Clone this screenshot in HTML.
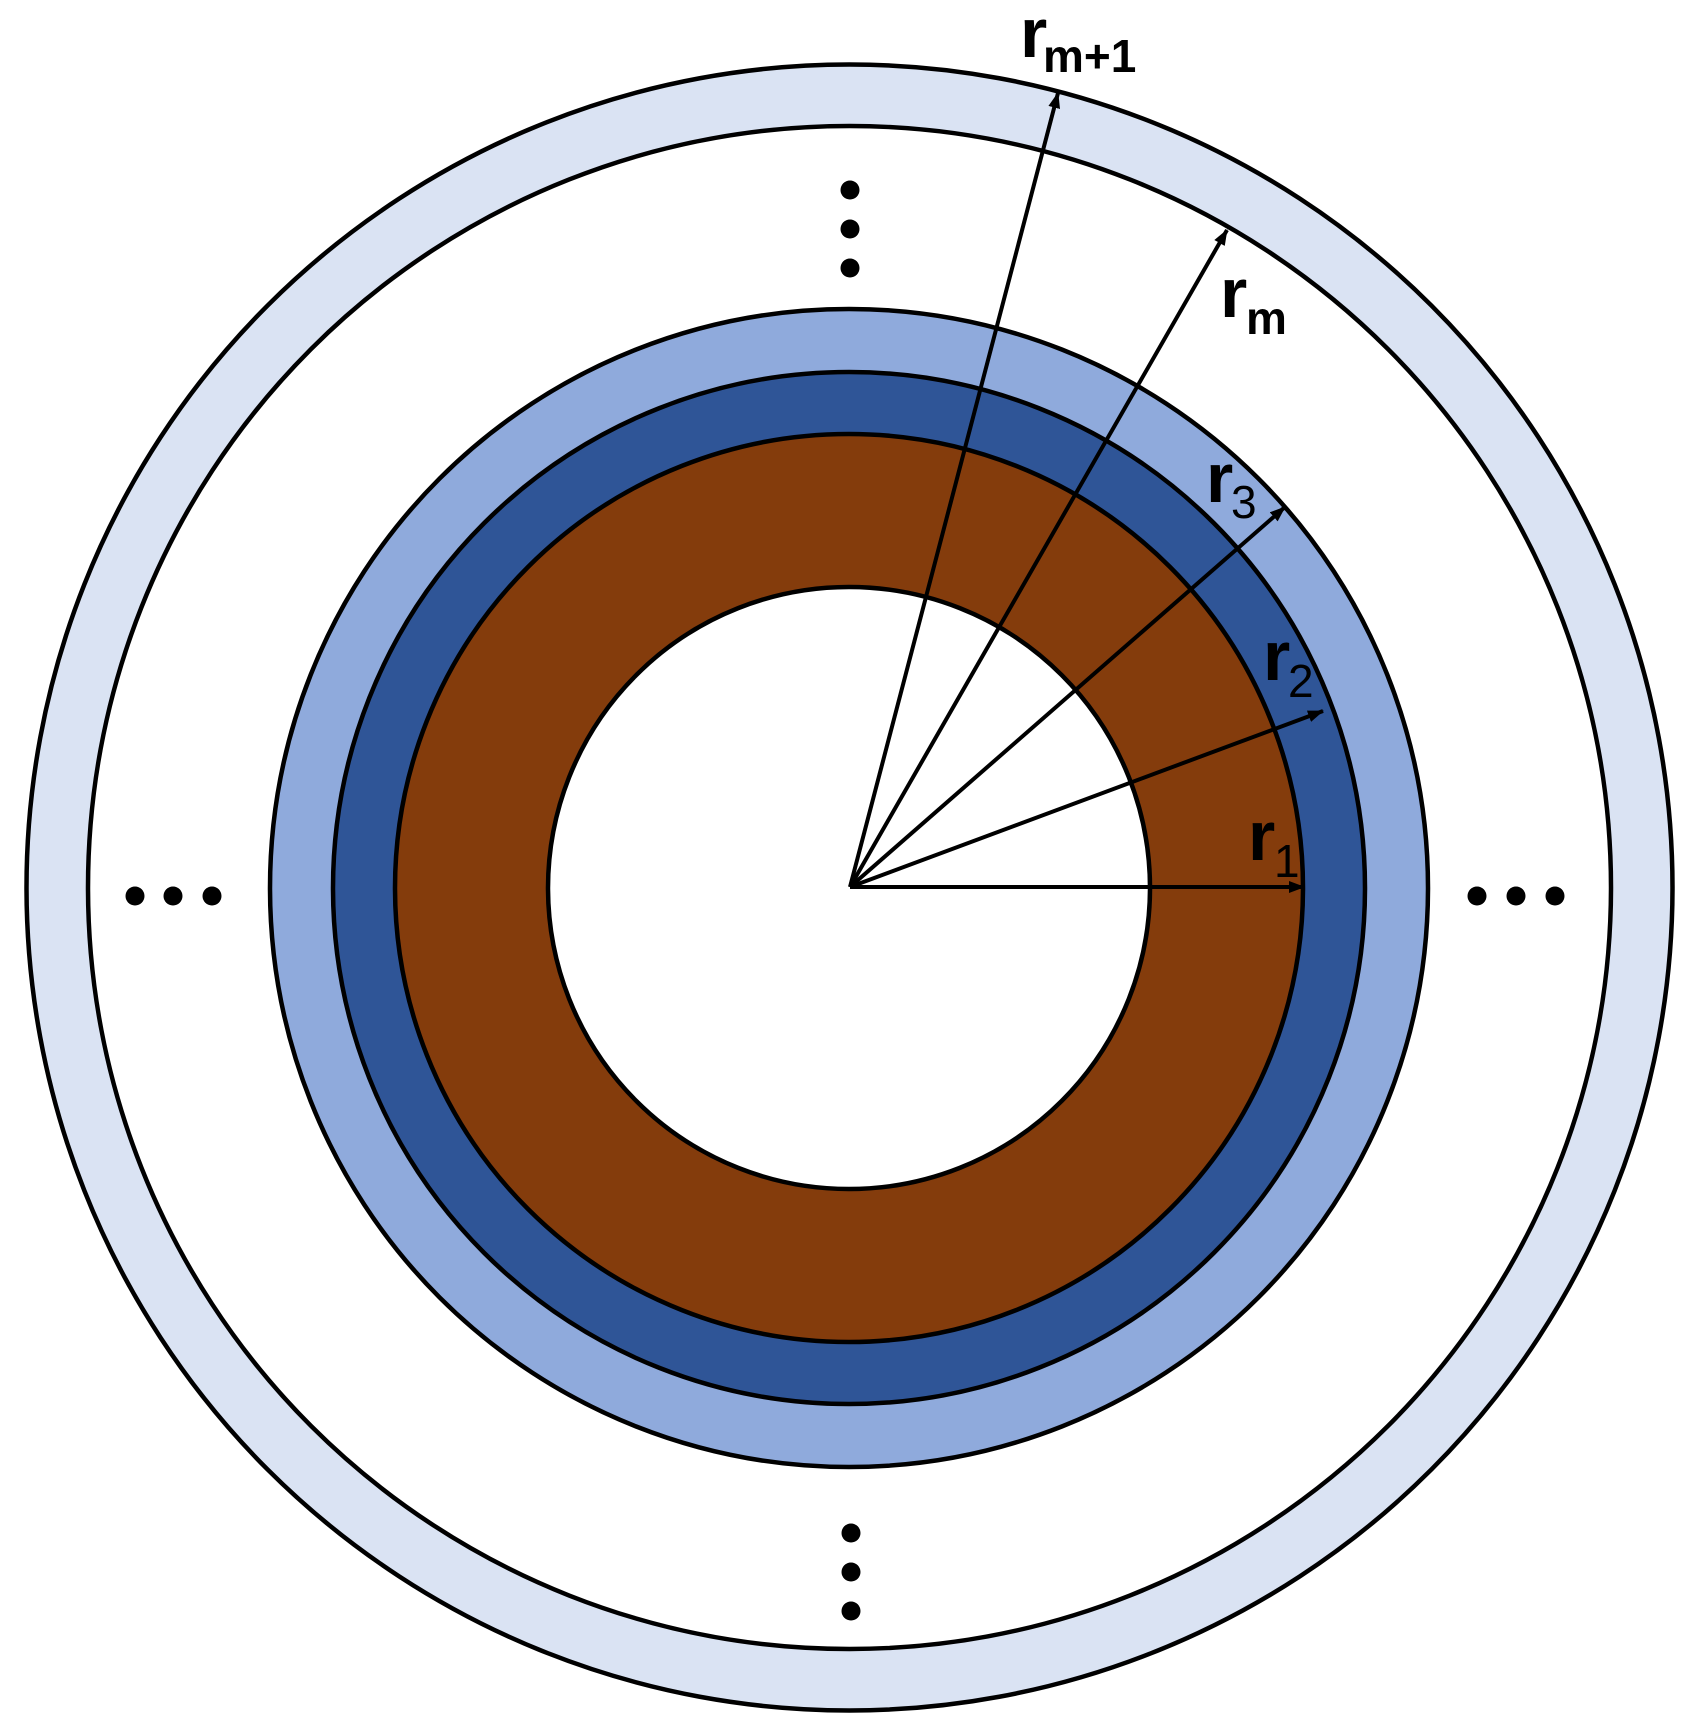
<!DOCTYPE html>
<html><head><meta charset="utf-8"><style>html,body{margin:0;padding:0;background:#fff}svg{display:block}</style></head>
<body>
<svg width="1698" height="1735" viewBox="0 0 1698 1735" xmlns="http://www.w3.org/2000/svg">
<defs>
<marker id="a" viewBox="0 0 16 12" refX="15" refY="6" markerWidth="16" markerHeight="12" orient="auto" markerUnits="userSpaceOnUse">
<path d="M0,0 L16,6 L0,12 Z" fill="#000"/>
</marker>
</defs>
<g stroke="#000" stroke-width="4.5">
<circle cx="849.5" cy="887.5" r="823" fill="#dae3f3"/>
<circle cx="849.5" cy="887.5" r="761.5" fill="#fff"/>
<circle cx="849" cy="888" r="579" fill="#8faadc"/>
<circle cx="849" cy="888" r="516" fill="#2f5597"/>
<circle cx="849" cy="888" r="454" fill="#843c0c"/>
<circle cx="849" cy="888" r="301" fill="#fff"/>
</g>
<g stroke="#000" stroke-width="4" marker-end="url(#a)">
<line x1="850" y1="887" x2="1304" y2="887"/>
<line x1="850" y1="887" x2="1323" y2="711"/>
<line x1="850" y1="887" x2="1285" y2="507"/>
<line x1="850" y1="887" x2="1227" y2="230"/>
<line x1="850" y1="887" x2="1058" y2="93"/>
</g>
<g fill="#000">
<circle cx="135" cy="896" r="9.5"/><circle cx="173" cy="896" r="9.5"/><circle cx="212" cy="896" r="9.5"/>
<circle cx="1477" cy="896" r="9.5"/><circle cx="1516" cy="896" r="9.5"/><circle cx="1555" cy="896" r="9.5"/>
<circle cx="851" cy="1533" r="9.5"/><circle cx="851" cy="1572" r="9.5"/><circle cx="851" cy="1611" r="9.5"/>
<circle cx="850" cy="190" r="9.5"/><circle cx="850" cy="229" r="9.5"/><circle cx="850" cy="268" r="9.5"/>
</g>
<g font-family="Liberation Sans, sans-serif" font-weight="bold" fill="#000">
<text x="1020" y="57" font-size="70">r</text><text x="1043" y="72" font-size="46">m+1</text>
<text x="1220" y="317" font-size="70">r</text><text x="1246" y="334" font-size="46">m</text>
<text x="1206" y="502" font-size="70">r</text><text x="1231" y="518" font-size="46" font-weight="normal">3</text>
<text x="1263" y="680" font-size="70">r</text><text x="1288" y="697" font-size="46" font-weight="normal">2</text>
<text x="1248" y="860" font-size="70">r</text><text x="1274" y="877" font-size="46" font-weight="normal">1</text>
</g>
</svg>
</body></html>
